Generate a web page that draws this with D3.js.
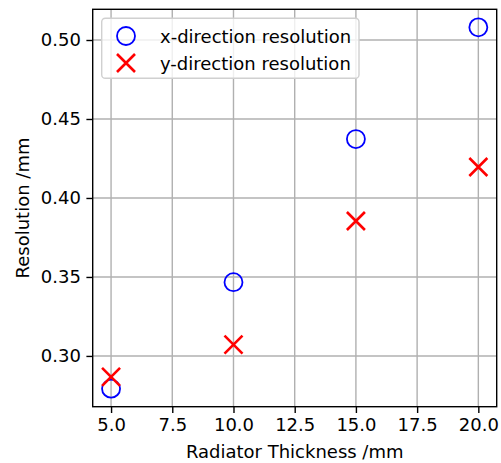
<!DOCTYPE html>
<html>
<head>
<meta charset="utf-8">
<script src="https://cdn.jsdelivr.net/npm/d3@7"></script>
<style>
  body { margin: 0; background: #fff; }
  text { font-family: 'DejaVu Sans', sans-serif; fill: #000; }
</style>
</head>
<body>
<svg id="chart" width="501" height="463"></svg>
<script>
// data
const thickness = [5, 10, 15, 20];
const xResolution = [0.2793, 0.3467, 0.4373, 0.508];
const yResolution = [0.2867, 0.3072, 0.3854, 0.4196];
const xTicks = [5, 7.5, 10, 12.5, 15, 17.5, 20];
const yTicks = [0.30, 0.35, 0.40, 0.45, 0.50];
const seriesNames = ['x-direction resolution', 'y-direction resolution'];

const svg = d3.select('#chart');
const width = +svg.attr('width');
const height = +svg.attr('height');

const padding = { top: 9.3, right: 4.3, bottom: 56.3, left: 92.7 };

// matplotlib style 5% margins
const xExt = d3.extent(thickness);
const xPad = (xExt[1] - xExt[0]) * 0.05;
const allY = xResolution.concat(yResolution);
const yExt = d3.extent(allY);
const yPad = (yExt[1] - yExt[0]) * 0.05;

const xScale = d3.scaleLinear()
  .domain([xExt[0] - xPad, xExt[1] + xPad])
  .range([padding.left, width - padding.right]);

const yScale = d3.scaleLinear()
  .domain([yExt[0] - yPad, yExt[1] + yPad])
  .range([height - padding.bottom, padding.top]);

const plotW = width - padding.left - padding.right;
const plotH = height - padding.top - padding.bottom;

//GRID
const grid = svg.append('g');
grid.selectAll('.vgrid').data(xTicks).enter().append('line')
  .attr('x1', d => xScale(d)).attr('x2', d => xScale(d))
  .attr('y1', padding.top).attr('y2', height - padding.bottom)
  .attr('stroke', '#b0b0b0').attr('stroke-width', 1.4);
grid.selectAll('.hgrid').data(yTicks).enter().append('line')
  .attr('y1', d => yScale(d)).attr('y2', d => yScale(d))
  .attr('x1', padding.left).attr('x2', width - padding.right)
  .attr('stroke', '#b0b0b0').attr('stroke-width', 1.4);

//AXES
const xAxis = d3.axisBottom(xScale).tickValues(xTicks)
  .tickFormat(d3.format('.1f')).tickSize(6.3).tickPadding(5);
const gx = svg.append('g')
  .attr('transform', `translate(0,${height - padding.bottom})`)
  .call(xAxis);

const yAxis = d3.axisLeft(yScale).tickValues(yTicks)
  .tickFormat(d3.format('.2f')).tickSize(6.3).tickPadding(5.5);
const gy = svg.append('g')
  .attr('transform', `translate(${padding.left},0)`)
  .call(yAxis);

[gx, gy].forEach(g => {
  g.select('.domain').remove();
  g.selectAll('.tick line').attr('stroke', '#000').attr('stroke-width', 1.4);
  g.selectAll('.tick text')
    .style('font-family', "'DejaVu Sans', sans-serif")
    .style('font-size', '18px').attr('fill', '#000');
});

// frame
svg.append('rect')
  .attr('x', padding.left).attr('y', padding.top)
  .attr('width', plotW).attr('height', plotH)
  .attr('fill', 'none').attr('stroke', '#000').attr('stroke-width', 1.4);

//POINTS
const r = 9;
svg.selectAll('.xres').data(thickness).enter().append('circle')
  .attr('cx', d => xScale(d))
  .attr('cy', (d, i) => yScale(xResolution[i]))
  .attr('r', r)
  .attr('fill', 'none').attr('stroke', '#0000ff').attr('stroke-width', 1.8);

function cross(g, cx, cy, s) {
  g.append('path')
    .attr('d', `M${cx - s},${cy - s}L${cx + s},${cy + s}M${cx - s},${cy + s}L${cx + s},${cy - s}`)
    .attr('stroke', '#ff0000').attr('stroke-width', 2.6).attr('fill', 'none');
}
const crosses = svg.append('g');
thickness.forEach((d, i) => cross(crosses, xScale(d), yScale(yResolution[i]), 9));

//LEGEND
const legend = svg.append('g');
legend.append('rect')
  .attr('x', 101.7).attr('y', 18.3).attr('width', 257.3).attr('height', 60)
  .attr('rx', 3.6)
  .attr('fill', '#fff').attr('fill-opacity', 0.8)
  .attr('stroke', '#d0d0d0').attr('stroke-width', 1.4);
legend.append('circle')
  .attr('cx', 126).attr('cy', 36).attr('r', r)
  .attr('fill', 'none').attr('stroke', '#0000ff').attr('stroke-width', 1.8);
cross(legend, 126, 63, 9);
legend.selectAll('.ltext').data(seriesNames).enter().append('text')
  .attr('x', 160).attr('y', (d, i) => 42.5 + i * 27)
  .style('font-size', '18px')
  .text(d => d);

//LABELS
svg.append('text')
  .attr('x', padding.left + plotW / 2).attr('y', 458)
  .style('text-anchor', 'middle').style('font-size', '18px')
  .text('Radiator Thickness /mm');

svg.append('text')
  .attr('transform', 'rotate(-90)')
  .attr('x', -(padding.top + plotH / 2)).attr('y', 28.5)
  .style('text-anchor', 'middle').style('font-size', '18px')
  .text('Resolution /mm');
</script>
</body>
</html>
